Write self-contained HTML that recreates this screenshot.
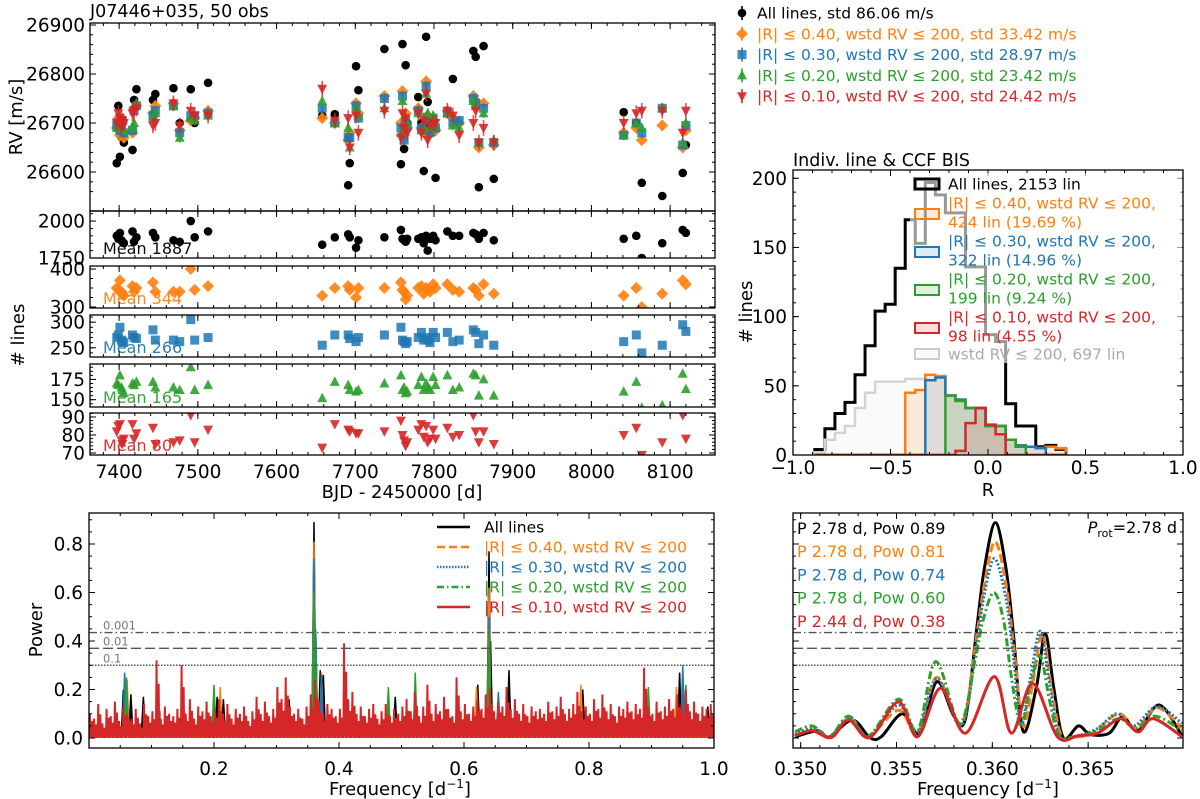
<!DOCTYPE html>
<html><head><meta charset="utf-8"><style>
html,body{margin:0;padding:0;background:#fff}
svg{display:block;font-family:"DejaVu Sans","Liberation Sans",sans-serif}
</style></head><body>
<svg id="fig" width="1200" height="799" viewBox="0 0 1200 799" xmlns="http://www.w3.org/2000/svg"></svg>
<script>
// ---------- DATA ----------
const obsTime=[7397,7399,7401,7403,7404,7406,7417,7419,7422,7443,7446,7469,7477,7491,7496,7513,
7658,7674,7691,7693,7701,7704,7737,7758,7760,7762,7764,7766,7780,7784,7787,7790,7792,7795,7799,7802,7817,7824,7832,7850,7853,7857,7863,7876,
8041,8057,8064,8090,8116,8120];
const rvAll=[26618,26735,26631,26671,26700,26660,26645,26747,26769,26747,26759,26771,26700,26769,26700,26782,
26715,26718,26573,26618,26816,26767,26851,26616,26861,26647,26818,26700,26753,26700,26602,26876,26743,26695,26682,26588,26725,26790,26700,26847,26835,26569,26857,26586,
26722,26700,26578,26551,26598,26655];
const rvR40=[26690,26710,26675,26680,26700,26670,26680,26730,26735,26720,26735,26740,26685,26705,26710,26725,
26710,26700,26665,26680,26740,26720,26755,26700,26765,26675,26720,26690,26730,26690,26680,26785,26715,26680,26690,26685,26725,26710,26700,26755,26745,26650,26740,26655,
26680,26690,26665,26695,26650,26685];
const rvR30=[26695,26700,26685,26690,26705,26680,26685,26725,26735,26715,26725,26735,26680,26715,26715,26720,
26730,26700,26670,26670,26735,26710,26750,26690,26755,26665,26705,26695,26725,26690,26685,26775,26705,26680,26710,26690,26720,26700,26705,26750,26740,26660,26730,26660,
26675,26700,26680,26730,26655,26695];
const rvR20=[26690,26705,26695,26700,26710,26685,26690,26700,26740,26710,26720,26735,26670,26710,26705,26715,
26745,26700,26690,26650,26730,26715,26730,26680,26745,26685,26700,26700,26720,26685,26690,26760,26720,26690,26715,26695,26720,26695,26690,26745,26735,26660,26720,26665,
26675,26700,26690,26730,26660,26700];
const rvR10=[26700,26720,26710,26690,26705,26700,26720,26725,26730,26695,26700,26740,26695,26725,26715,26715,
26770,26705,26710,26650,26715,26680,26725,26670,26720,26690,26710,26680,26720,26680,26705,26760,26665,26695,26700,26700,26725,26715,26675,26700,26725,26660,26690,26660,
26700,26720,26725,26725,26680,26725];
const nAll=[1900,1880,1920,1870,1860,1850,1930,1860,1890,1920,1890,1870,1860,2000,1890,1930,
1840,1890,1910,1890,1820,1870,1890,1940,1880,1870,1860,1880,1880,1890,1850,1900,1800,1880,1900,1870,1930,1900,1900,1920,1910,1880,1920,1870,
1880,1900,1750,1850,1940,1920];
const nR40=[350,345,370,340,335,330,355,340,350,365,340,340,340,400,345,355,
330,350,355,345,325,350,350,365,345,340,320,330,350,355,335,350,345,340,360,350,360,345,340,350,345,330,360,335,
330,350,300,335,370,360];
const nR30=[270,275,290,265,262,260,275,270,268,285,265,265,262,305,265,270,
255,275,275,268,262,270,275,290,265,262,258,262,270,280,265,270,265,260,280,270,280,262,265,285,280,258,275,255,
262,275,240,255,295,282];
const nR20=[170,168,180,165,162,158,170,168,172,172,165,165,162,190,162,168,
152,172,168,162,160,162,170,180,162,165,158,160,168,178,162,170,165,162,178,168,180,162,165,182,180,155,175,155,
160,172,140,143,182,163];
const nR10=[82,85,86,77,75,78,86,78,81,84,75,76,77,91,76,83,
73,86,83,82,81,81,82,88,80,77,74,76,83,86,79,85,76,78,83,78,84,79,80,91,82,76,82,75,
80,84,69,76,91,78];
const rvTicks=[26600,26700,26800,26900];
const timeTicks=[7400,7500,7600,7700,7800,7900,8000,8100];

// histogram
const histStart=-0.888, histWidth=0.0515;
const histAll=[4,19,30,38,58,79,104,109,135,170,153,197,188,175,175,136,136,87,82,37,21,21,6,7,4];
const histWstd=[2,11,16,21,34,45,53,53,53,55,55,58,57,43,40,34,34,21,21,11,7,6,5,6,5];
const histR40=[0,0,0,0,0,0,0,0,0,45,47,58,57,43,40,34,34,21,21,11,7,6,5,6,5];
const histR30=[0,0,0,0,0,0,0,0,0,0,0,54,56,43,40,34,34,21,21,11,7,6,5,0,0];
const histR20=[0,0,0,0,0,0,0,0,0,0,0,0,0,43,39,34,34,21,21,11,6,0,0,0,0];
const histR10=[0,0,0,0,0,0,0,0,0,0,0,0,0,0,3,23,34,22,15,0,0,0,0,0,0];
const histXTicks=[-1.0,-0.5,0.0,0.5,1.0];
const histYTicks=[0,50,100,150,200];

// full periodogram (peak heights)
const pgRed=[0.10,0.08,0.14,0.06,0.12,0.09,0.15,0.07,0.13,0.10,
0.08,0.12,0.06,0.14,0.09,0.11,0.32,0.08,0.13,0.10,
0.09,0.12,0.30,0.10,0.16,0.08,0.13,0.11,0.15,0.09,
0.12,0.16,0.10,0.14,0.08,0.12,0.10,0.13,0.07,0.11,
0.17,0.10,0.15,0.09,0.12,0.21,0.16,0.25,0.13,0.10,
0.12,0.08,0.13,0.18,0.24,0.15,0.10,0.14,0.12,0.09,
0.12,0.39,0.16,0.19,0.10,0.13,0.09,0.12,0.14,0.08,
0.11,0.14,0.09,0.12,0.10,0.13,0.16,0.11,0.19,0.09,
0.13,0.22,0.10,0.14,0.11,0.17,0.12,0.09,0.25,0.11,
0.14,0.10,0.13,0.16,0.12,0.18,0.20,0.11,0.15,0.13,
0.21,0.12,0.16,0.10,0.14,0.09,0.13,0.11,0.12,0.10,
0.15,0.11,0.13,0.17,0.10,0.12,0.14,0.19,0.11,0.13,
0.10,0.16,0.12,0.18,0.11,0.14,0.09,0.13,0.12,0.15,
0.11,0.14,0.12,0.29,0.13,0.10,0.15,0.11,0.13,0.16,
0.12,0.18,0.14,0.20,0.11,0.15,0.10,0.13,0.12,0.14];
const pkAllF=[0.055,0.067,0.087,0.205,0.215,0.32,0.36,0.3628,0.37,0.375,0.49,0.622,0.64,0.6425,0.672,0.79,0.945,0.95,0.99];
const pkAllP=[0.20,0.18,0.17,0.17,0.16,0.16,0.89,0.43,0.28,0.26,0.17,0.22,0.77,0.40,0.28,0.20,0.27,0.24,0.13];
const pkR40F=[0.061,0.21,0.36,0.3628,0.372,0.64,0.62,0.787,0.94];
const pkR40P=[0.24,0.21,0.81,0.43,0.27,0.62,0.21,0.22,0.21];
const pkR30F=[0.057,0.36,0.3626,0.372,0.64,0.655,0.95];
const pkR30P=[0.27,0.74,0.45,0.26,0.50,0.19,0.30];
const pkR20F=[0.06,0.2,0.36,0.3625,0.479,0.522,0.64,0.895,0.955];
const pkR20P=[0.25,0.22,0.60,0.33,0.21,0.27,0.45,0.21,0.22];
const pgXTicks=[0.2,0.4,0.6,0.8,1.0];
const pgYTicks=[0.0,0.2,0.4,0.6,0.8];
const fapLevels=[0.435,0.37,0.30];
const fapLabels=["0.001","0.01","0.1"];

// zoomed periodogram
const zAllF=[0.3497,0.3509,0.3515,0.3527,0.3536,0.3542,0.3553,0.3562,0.3571,0.3580,0.3586,0.3592,0.3596,0.36016,0.3607,0.3611,0.3616,0.3623,0.36276,0.3632,0.3637,0.3645,0.3651,0.3661,0.3668,0.3676,0.3687,0.3699];
const zAllP=[0.005,0.03,0.005,0.074,0.002,0.005,0.10,0.02,0.232,0.09,0.08,0.46,0.706,0.888,0.706,0.43,0.03,0.21,0.43,0.21,0.002,0.05,0.015,0.02,0.088,0.03,0.136,0.01];
const zR40F=[0.3497,0.3508,0.3515,0.3526,0.3535,0.3551,0.3561,0.3571,0.3584,0.3592,0.3596,0.36014,0.3607,0.3611,0.3616,0.3621,0.3626,0.3631,0.3636,0.3644,0.3652,0.3666,0.3675,0.3686,0.3699];
const zR40P=[0.01,0.035,0.005,0.08,0.005,0.115,0.02,0.25,0.06,0.43,0.64,0.81,0.64,0.39,0.05,0.22,0.43,0.20,0.01,0.005,0.02,0.10,0.04,0.125,0.04];
const zR30F=[0.3497,0.3507,0.3515,0.3526,0.3535,0.3551,0.3561,0.3571,0.3584,0.3592,0.3596,0.36012,0.3607,0.3611,0.3615,0.3620,0.3625,0.3630,0.3635,0.3645,0.3655,0.3665,0.3674,0.3686,0.3699];
const zR30P=[0.015,0.04,0.005,0.085,0.005,0.135,0.02,0.245,0.05,0.40,0.60,0.74,0.58,0.34,0.06,0.25,0.44,0.22,0.01,0.01,0.04,0.10,0.05,0.13,0.06];
const zR20F=[0.3497,0.3506,0.3515,0.3525,0.3535,0.3551,0.3561,0.35705,0.3583,0.3591,0.3595,0.36008,0.3606,0.3610,0.3615,0.3620,0.3625,0.3630,0.3635,0.3645,0.3655,0.3666,0.3675,0.3685,0.3699];
const zR20P=[0.025,0.05,0.005,0.09,0.005,0.16,0.03,0.315,0.06,0.32,0.48,0.60,0.48,0.25,0.05,0.22,0.34,0.15,0.01,0.01,0.03,0.08,0.04,0.09,0.03];
const zR10F=[0.3497,0.3506,0.3516,0.3525,0.3536,0.3551,0.3561,0.3573,0.3586,0.3601,0.3610,0.3621,0.3634,0.3645,0.3655,0.3667,0.3676,0.3684,0.3699];
const zR10P=[0.01,0.03,0.002,0.074,0.002,0.149,0.005,0.205,0.02,0.253,0.02,0.225,0.005,0.01,0.02,0.08,0.025,0.08,0.005];
const zXTicks=[0.350,0.355,0.360,0.365];

// ---------- RENDER ----------
const NS="http://www.w3.org/2000/svg";
const svg=document.getElementById('fig');
function el(tag,attrs,parent){const e=document.createElementNS(NS,tag);for(const k in attrs)e.setAttribute(k,attrs[k]);(parent||svg).appendChild(e);return e;}
function txt(s,x,y,size,fill,anchor,parent,extra){const t=el('text',Object.assign({x:x,y:y,'font-size':size,fill:fill||'#000','text-anchor':anchor||'start'},extra||{}),parent);t.textContent=s;return t;}
const C={k:'#000',o:'#ff7f0e',b:'#1f77b4',g:'#2ca02c',r:'#d62728'};
function lin(d0,d1,p0,p1){return v=>p0+(v-d0)*(p1-p0)/(d1-d0);}
let clipN=0;
function mkAxes(name,x0,y0,x1,y1){
  const g=el('g',{});
  
  
  const id='clip'+(clipN++);
  const cp=el('clipPath',{id:id},g);el('rect',{x:x0,y:y0,width:x1-x0,height:y1-y0},cp);
  const plot=el('g',{'clip-path':'url(#'+id+')'},g);
  return {g,plot,x0,y0,x1,y1};
}
function frame(ax){el('rect',{x:ax.x0,y:ax.y0,width:ax.x1-ax.x0,height:ax.y1-ax.y0,fill:'none',stroke:'#000','stroke-width':1.3},ax.g);}
function xticks(ax,sx,vals,len){vals.forEach(v=>{const x=sx(v);if(x<ax.x0-0.5||x>ax.x1+0.5)return;
 el('line',{x1:x,x2:x,y1:ax.y1,y2:ax.y1-len,stroke:'#000','stroke-width':1},ax.g);
 el('line',{x1:x,x2:x,y1:ax.y0,y2:ax.y0+len,stroke:'#000','stroke-width':1},ax.g);});}
function yticks(ax,sy,vals,len){vals.forEach(v=>{const y=sy(v);if(y<ax.y0-0.5||y>ax.y1+0.5)return;
 el('line',{x1:ax.x0,x2:ax.x0+len,y1:y,y2:y,stroke:'#000','stroke-width':1},ax.g);
 el('line',{x1:ax.x1,x2:ax.x1-len,y1:y,y2:y,stroke:'#000','stroke-width':1},ax.g);});}
function range(a,b,s){const r=[];for(let v=a;v<=b+s*1e-6;v+=s)r.push(+v.toFixed(6));return r;}
const FS=18.5;

// title
const title=txt('J07446+035, 50 obs',90,17,17.5,'#000');



// ---- top RV panel ----
const tX=lin(7363,8157,90,715);
const rvAx=mkAxes('rv-panel',90,23,715,211);
const sRVy=v=>123-(v-26700)*0.49;
function marker(kind,x,y,color,parent){
  let m;
  if(kind==='o')m=el('circle',{cx:x,cy:y,r:4.3,fill:color},parent);
  else if(kind==='D')m=el('path',{d:`M${x} ${y-6}L${x+6} ${y}L${x} ${y+6}L${x-6} ${y}Z`,fill:color,'fill-opacity':0.9},parent);
  else if(kind==='s')m=el('rect',{x:x-4.5,y:y-4.5,width:9,height:9,fill:color,'fill-opacity':0.85},parent);
  else if(kind==='^')m=el('path',{d:`M${x} ${y-5.5}L${x+5} ${y+4}L${x-5} ${y+4}Z`,fill:color,'fill-opacity':0.9},parent);
  else m=el('path',{d:`M${x} ${y+5.5}L${x+5} ${y-4}L${x-5} ${y-4}Z`,fill:color,'fill-opacity':0.9},parent);
  return m;
}
const rvSeries=[[rvAll,'o',C.k,8,'rv-all-point'],[rvR40,'D',C.o,10,'rv-r040-point'],[rvR30,'s',C.b,10,'rv-r030-point'],[rvR20,'^',C.g,10,'rv-r020-point'],[rvR10,'v',C.r,16,'rv-r010-point']];
rvSeries.forEach(([arr,mk,col,err,nm])=>{
  arr.forEach((v,i)=>{const x=tX(obsTime[i]),y=sRVy(v);
    el('line',{x1:x,x2:x,y1:y-err*0.49,y2:y+err*0.49,stroke:col,'stroke-width':1.6,'stroke-opacity':0.8},rvAx.plot);
    const m=marker(mk,x,y,col,rvAx.plot);
    
    });
});
frame(rvAx);
xticks(rvAx,tX,range(7360,8160,20),3);xticks(rvAx,tX,timeTicks,6);
yticks(rvAx,sRVy,range(26560,26920,20),3);yticks(rvAx,sRVy,rvTicks,6);
rvTicks.forEach(v=>txt(String(v),85,sRVy(v)+6.5,FS,'#000','end',rvAx.g));
const rvLab=txt('RV [m/s]',0,0,18,'#000','middle',svg,{transform:'translate(22,117) rotate(-90)'});



// ---- sub panels ----
const subs=[
 {arr:nAll,mk:'o',col:C.k,y0:211,y1:258,lim:[1750,2068],ticks:[1750,2000],minor:range(1750,2050,50),mean:'Mean 1887',name:'nlines-all-panel'},
 {arr:nR40,mk:'D',col:C.o,y0:266,y1:308,lim:[297.3,408],ticks:[300,400],minor:range(300,400,25),mean:'Mean 344',name:'nlines-r040-panel'},
 {arr:nR30,mk:'s',col:C.b,y0:315,y1:357,lim:[232,314],ticks:[250,300],minor:range(240,310,10),mean:'Mean 266',name:'nlines-r030-panel'},
 {arr:nR20,mk:'^',col:C.g,y0:364,y1:407,lim:[141,194],ticks:[150,175],minor:range(145,190,5),mean:'Mean 165',name:'nlines-r020-panel'},
 {arr:nR10,mk:'v',col:C.r,y0:413,y1:455,lim:[68.9,92.2],ticks:[70,80,90],minor:range(70,92,2),mean:'Mean 80',name:'nlines-r010-panel'}];
subs.forEach(p=>{
  const ax=mkAxes(p.name,90,p.y0,715,p.y1);
  const sy=lin(p.lim[0],p.lim[1],p.y1,p.y0);
  p.arr.forEach((v,i)=>{const m=marker(p.mk,tX(obsTime[i]),sy(v),p.col,ax.plot);
    
    });
  const mt=txt(p.mean,103,p.y1-4,16,p.col,'start',ax.g,{'fill-opacity':0.95});
  
  
  frame(ax);
  xticks(ax,tX,range(7360,8160,20),3);xticks(ax,tX,timeTicks,6);
  yticks(ax,sy,p.minor,3);yticks(ax,sy,p.ticks,6);
  p.ticks.forEach(v=>txt(String(v),85,sy(v)+6.5,FS,'#000','end',ax.g));
});
timeTicks.forEach(v=>txt(String(v),tX(v),478,FS,'#000','middle'));
const bjd=txt('BJD - 2450000 [d]',402,498,18,'#000','middle');


const nl=txt('# lines',0,0,18,'#000','middle',svg,{transform:'translate(24,335) rotate(-90)'});



// top-right legend
const lg=el('g',{});


const lgItems=[['o',C.k,'All lines, std 86.06 m/s'],['D',C.o,'|R| ≤ 0.40, wstd RV ≤ 200, std 33.42 m/s'],['s',C.b,'|R| ≤ 0.30, wstd RV ≤ 200, std 28.97 m/s'],['^',C.g,'|R| ≤ 0.20, wstd RV ≤ 200, std 23.42 m/s'],['v',C.r,'|R| ≤ 0.10, wstd RV ≤ 200, std 24.42 m/s']];
lgItems.forEach((it,i)=>{const y=13+i*20.8;
  el('line',{x1:742,x2:742,y1:y-7,y2:y+7,stroke:it[1],'stroke-width':1.6},lg);
  marker(it[0],742,y,it[1],lg);
  const t=txt(it[2],757,y+5.5,15.5,it[1],'start',lg);
  
  });

// ---- histogram ----
const hAx=mkAxes('histogram-panel',793,170,1183,455);
const hx=lin(-1,1,793,1183), hy=lin(0,206,455,170);
function stepPath(counts){let d='';counts.forEach((c,i)=>{const xa=hx(histStart+i*histWidth),xb=hx(histStart+(i+1)*histWidth);d+=(i===0?`M${xa} ${hy(0)}L${xa} ${hy(c)}`:`L${xa} ${hy(c)}`)+`L${xb} ${hy(c)}`;});
 d+=`L${hx(histStart+counts.length*histWidth)} ${hy(0)}`;return d;}
const histS=[[histAll,'#000','none',3,'hist-all'],[histWstd,'#d3d3d3','#d3d3d3',2.5,'hist-wstd'],[histR40,C.o,C.o,2.5,'hist-r040'],[histR30,C.b,C.b,2.5,'hist-r030'],[histR20,C.g,C.g,2.5,'hist-r020'],[histR10,C.r,C.r,2.5,'hist-r010']];
histS.forEach(([arr,st,fi,w,nm])=>{
  if(fi!=='none'){el('path',{d:stepPath(arr)+'Z',fill:fi,'fill-opacity':0.12,stroke:'none'},hAx.plot);}
  const p=el('path',{d:stepPath(arr),fill:'none',stroke:st,'stroke-width':w},hAx.plot);
  
  });
const hl=el('g',{});


el('rect',{x:910,y:173,width:272,height:190,fill:'#fff','fill-opacity':0.6},hl);
const hlItems=[[C.k,'none',184,['All lines, 2153 lin']],[C.o,C.o,214,['|R| ≤ 0.40, wstd RV ≤ 200,','424 lin (19.69 %)']],[C.b,C.b,252,['|R| ≤ 0.30, wstd RV ≤ 200,','322 lin (14.96 %)']],[C.g,C.g,290,['|R| ≤ 0.20, wstd RV ≤ 200,','199 lin (9.24 %)']],[C.r,C.r,328,['|R| ≤ 0.10, wstd RV ≤ 200,','98 lin (4.55 %)']],['#ccc','#ddd',354,['wstd RV ≤ 200, 697 lin']]];
hlItems.forEach(([st,fi,y,lines])=>{
  el('rect',{x:915,y:y-5,width:24,height:10,fill:fi==='none'?'none':fi,'fill-opacity':0.15,stroke:st,'stroke-width':st==='#000'?3:2},hl);
  const ty=lines.length===1?y+5.5:y-5.5;
  lines.forEach((s,j)=>{const t=txt(s,948,ty+j*19,15.5,st==='#ccc'?'#aaa':st,'start',hl);
    
    });
});
frame(hAx);
xticks(hAx,hx,range(-1,1,0.1),3);xticks(hAx,hx,histXTicks,6);
yticks(hAx,hy,range(0,200,10),3);yticks(hAx,hy,histYTicks,6);
histXTicks.forEach(v=>txt((v<0?'−':'')+Math.abs(v).toFixed(1),hx(v),474,FS,'#000','middle'));
histYTicks.forEach(v=>txt(String(v),787,hy(v)+6.5,FS,'#000','end'));
const ht=txt('Indiv. line & CCF BIS',793,166,17.5,'#000');


const rl=txt('R',988,496,18,'#000','middle');


const hyl=txt('# lines',0,0,18,'#000','middle',svg,{transform:'translate(752,312) rotate(-90)'});



// ---- full periodogram ----
const pAx=mkAxes('periodogram-panel',89,513,714,748);
const px=lin(0,1,89,714), py=lin(0,1,738,495.5);
function spikes(F,P,col,nm){let d='';F.forEach((f,i)=>{const x=px(f);d+=`M${x-2} ${py(0.02)}L${x} ${py(P[i])}L${x+2} ${py(0.02)}`;});
  const p=el('path',{d:d,fill:col,stroke:col,'stroke-width':1.5,'stroke-linejoin':'miter'},pAx.plot);
  
  }
spikes(pkAllF,pkAllP,C.k,'pg-all-line');
spikes(pkR40F,pkR40P,C.o,'pg-r040-line');
spikes(pkR30F,pkR30P,C.b,'pg-r030-line');
spikes(pkR20F,pkR20P,C.g,'pg-r020-line');
(function(){let d='';const n=pgRed.length;pgRed.forEach((v,i)=>{
  const f=k=>px((i+k)/n);
  d+=(i===0?'M':'L')+`${f(0.05)} ${py(0.0)}L${f(0.22)} ${py(v)}L${f(0.34)} ${py(0.01)}L${f(0.46)} ${py(v*0.5)}L${f(0.58)} ${py(0.0)}L${f(0.72)} ${py(v*0.7)}L${f(0.86)} ${py(0.005)}L${f(0.95)} ${py(v*0.35)}`;});
  const p=el('path',{d:d,fill:'none',stroke:C.r,'stroke-width':2},pAx.plot);
  
  })();
const dashes=['8,3,1.5,3','10,4','1.5,1.5'];
function fapLines(ax,sx0,sx1,sy,labels){fapLevels.forEach((v,i)=>{
  const l=el('line',{x1:sx0,x2:sx1,y1:sy(v),y2:sy(v),stroke:'#555','stroke-width':1.4,'stroke-dasharray':dashes[i]},ax.g);
  
  
  if(labels)txt(fapLabels[i],103,sy(v)-3,11.5,'#777','start',ax.g);});}
fapLines(pAx,89,714,py,true);
frame(pAx);
xticks(pAx,px,range(0.05,1,0.05),3);xticks(pAx,px,pgXTicks,6);
yticks(pAx,py,range(0,0.9,0.05),3);yticks(pAx,py,pgYTicks,6);
pgXTicks.forEach(v=>txt(v.toFixed(1),px(v),775,FS,'#000','middle'));
pgYTicks.forEach(v=>txt(v.toFixed(1),83,py(v)+6.5,FS,'#000','end'));
const pwl=txt('Power',0,0,18,'#000','middle',svg,{transform:'translate(42,630) rotate(-90)'});


function freqLabel(x,y,nm){const t=el('text',{x:x,y:y,'font-size':18,'text-anchor':'middle',fill:'#000'});
  t.appendChild(document.createTextNode('Frequency [d'));const s=el('tspan',{'font-size':12,dy:-7},t);s.textContent='−1';const s2=el('tspan',{dy:7},t);s2.textContent=']';}
freqLabel(400,795,'x-axis-title-frequency');
const pl=el('g',{});


const plItems=[[C.k,'none','All lines'],[C.o,'8,4','|R| ≤ 0.40, wstd RV ≤ 200'],[C.b,'1.5,1.5','|R| ≤ 0.30, wstd RV ≤ 200'],[C.g,'7,3,1.5,3','|R| ≤ 0.20, wstd RV ≤ 200'],[C.r,'none','|R| ≤ 0.10, wstd RV ≤ 200']];
plItems.forEach(([c,da,s],i)=>{const y=527+i*20;
  el('line',{x1:437,x2:470,y1:y,y2:y,stroke:c,'stroke-width':2.5,'stroke-dasharray':da},pl);
  const t=txt(s,484,y+5.5,15.5,c,'start',pl);
  
  });

// ---- zoomed periodogram ----
const zAx=mkAxes('periodogram-zoom-panel',793,513,1183,748);
const zx=lin(0.3496,0.36995,793,1183);
fapLines(zAx,793,1183,py,false);
function smoothPath(F,P){const pts=F.map((f,i)=>[zx(f),py(P[i])]);let d=`M${pts[0][0]} ${pts[0][1]}`;
  for(let i=0;i<pts.length-1;i++){const p0=pts[Math.max(0,i-1)],p1=pts[i],p2=pts[i+1],p3=pts[Math.min(pts.length-1,i+2)];
    const c1=[p1[0]+(p2[0]-p0[0])/6,p1[1]+(p2[1]-p0[1])/6],c2=[p2[0]-(p3[0]-p1[0])/6,p2[1]-(p3[1]-p1[1])/6];
    d+=`C${c1[0]} ${c1[1]} ${c2[0]} ${c2[1]} ${p2[0]} ${p2[1]}`;}return d;}
[[zAllF,zAllP,C.k,'none','zoom-all-line'],[zR40F,zR40P,C.o,'9,4','zoom-r040-line'],[zR30F,zR30P,C.b,'2,2','zoom-r030-line'],[zR20F,zR20P,C.g,'8,3,2,3','zoom-r020-line'],[zR10F,zR10P,C.r,'none','zoom-r010-line']].forEach(([F,P,c,da,nm])=>{
  const p=el('path',{d:smoothPath(F,P),fill:'none',stroke:c,'stroke-width':3,'stroke-dasharray':da},zAx.plot);
  
  });
frame(zAx);
xticks(zAx,zx,range(0.350,0.3699,0.001),3);xticks(zAx,zx,zXTicks,6);
yticks(zAx,py,range(0,0.9,0.05),3);yticks(zAx,py,pgYTicks,6);
zXTicks.forEach(v=>txt(v.toFixed(3),zx(v),775,FS,'#000','middle'));
freqLabel(988,795,'x-axis-title-frequency-zoom');
[[C.k,'P 2.78 d, Pow 0.89'],[C.o,'P 2.78 d, Pow 0.81'],[C.b,'P 2.78 d, Pow 0.74'],[C.g,'P 2.78 d, Pow 0.60'],[C.r,'P 2.44 d, Pow 0.38']].forEach(([c,s],i)=>{
  const t=txt(s,797,534+i*23.2,16,c,'start');
  
  });
const pr=el('text',{x:1177,y:533,'font-size':16,'text-anchor':'end',fill:'#000'});


const pi=el('tspan',{'font-style':'italic'},pr);pi.textContent='P';
const ps=el('tspan',{'font-size':11,dy:4},pr);ps.textContent='rot';
const pe=el('tspan',{dy:-4},pr);pe.textContent='=2.78 d';
</script>
</body></html>
